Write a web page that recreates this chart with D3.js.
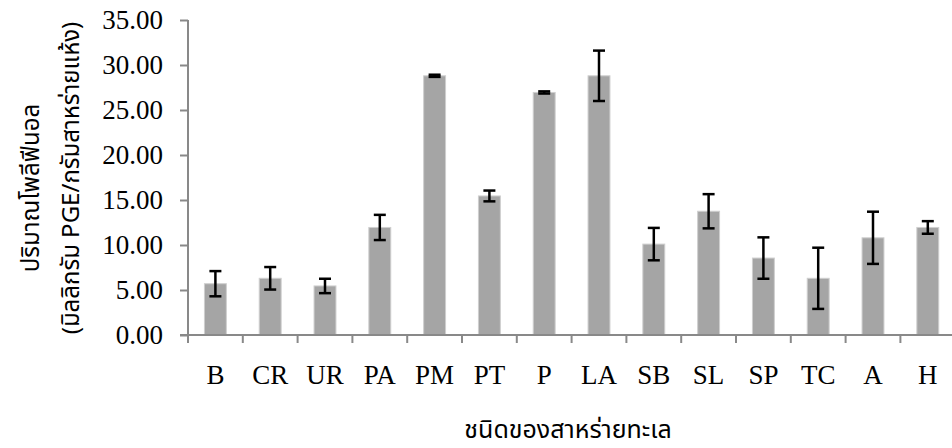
<!DOCTYPE html>
<html>
<head>
<meta charset="utf-8">
<script src="https://cdn.jsdelivr.net/npm/d3@7"></script>
<style>
  body { margin: 0; background: #fff; }
  svg { display: block; }
</style>
</head>
<body>
<script>
var width = 952,
    height = 448;

// seaweed types and polyphenol content (mg PGE / g dry weight)
var categories = ["B", "CR", "UR", "PA", "PM", "PT", "P", "LA", "SB", "SL", "SP", "TC", "A", "H"];
var values = [5.7, 6.3, 5.45, 11.95, 28.8, 15.45, 26.95, 28.8, 10.1, 13.75, 8.55, 6.3, 10.8, 11.95];
var errors = [1.4, 1.25, 0.8, 1.4, 0.12, 0.6, 0.12, 2.8, 1.8, 1.9, 2.3, 3.4, 2.9, 0.7];
var yTicks = [0, 5, 10, 15, 20, 25, 30, 35];

var svg = d3.select("body").append("svg")
    .attr("width", width)
    .attr("height", height);

var plotLeft = 188, plotTop = 20, plotBottom = 335;
var step = 54.8;

var x = d3.scaleBand()
    .domain(categories)
    .range([plotLeft, plotLeft + step * categories.length])
    .paddingInner(0.6)
    .paddingOuter(0.3);

var y = d3.scaleLinear()
    .domain([0, 35])
    .range([plotBottom, plotTop]);

var axisColor = "#898989";
var serif = "'Liberation Serif', 'Times New Roman', serif";

// bars
svg.append("g")
    .selectAll("rect")
    .data(categories)
    .enter()
    .append("rect")
    .attr("x", function (d) { return x(d); })
    .attr("y", function (d, i) { return y(values[i]); })
    .attr("width", x.bandwidth())
    .attr("height", function (d, i) { return y(0) - y(values[i]); })
    .style("fill", "#a5a5a5")
    .style("stroke", "#cfcfcf")
    .style("stroke-width", 1);

// error bars
var eb = svg.append("g")
    .selectAll("g")
    .data(categories)
    .enter()
    .append("g")
    .attr("transform", function (d) { return "translate(" + (x(d) + x.bandwidth() / 2) + ",0)"; })
    .style("stroke", "#000")
    .style("stroke-width", 2.5);

eb.append("line")
    .attr("y1", function (d, i) { return y(values[i] + errors[i]); })
    .attr("y2", function (d, i) { return y(values[i] - errors[i]); });
eb.append("line")
    .attr("x1", -6).attr("x2", 6)
    .attr("y1", function (d, i) { return y(values[i] + errors[i]); })
    .attr("y2", function (d, i) { return y(values[i] + errors[i]); });
eb.append("line")
    .attr("x1", -6).attr("x2", 6)
    .attr("y1", function (d, i) { return y(values[i] - errors[i]); })
    .attr("y2", function (d, i) { return y(values[i] - errors[i]); });

// y axis
var yAxis = svg.append("g")
    .attr("transform", "translate(" + plotLeft + ",0)")
    .call(d3.axisLeft(y).tickValues(yTicks).tickFormat(d3.format(".2f")).tickSize(8).tickPadding(17));
yAxis.select(".domain").attr("d", "M0," + plotTop + "V" + plotBottom);
yAxis.selectAll("line, path").style("stroke", axisColor).style("stroke-width", 2);
yAxis.selectAll("text")
    .style("font-family", serif)
    .style("font-size", "27px")
    .style("fill", "#000");

// x axis
var xAxis = svg.append("g")
    .attr("transform", "translate(0," + plotBottom + ")")
    .call(d3.axisBottom(x).tickSize(0));
xAxis.select(".domain").attr("d", "M180,0H" + width)
    .style("stroke", axisColor).style("stroke-width", 2);
xAxis.selectAll("text")
    .attr("y", 49).attr("dy", 0)
    .style("font-family", serif)
    .style("font-size", "27px")
    .style("fill", "#000");

// boundary ticks between categories
svg.append("g")
    .selectAll("line")
    .data(d3.range(categories.length + 1))
    .enter()
    .append("line")
    .attr("x1", function (i) { return plotLeft + i * x.step(); })
    .attr("x2", function (i) { return plotLeft + i * x.step(); })
    .attr("y1", plotBottom)
    .attr("y2", plotBottom + 8)
    .style("stroke", axisColor)
    .style("stroke-width", 2);

// axis titles
var thaiFont = "Tahoma, 'Noto Sans Thai', 'Noto Sans', 'DejaVu Sans', sans-serif";

svg.append("text")
    .attr("x", 568)
    .attr("y", 438)
    .attr("text-anchor", "middle")
    .style("font-family", thaiFont)
    .style("font-size", "25px")
    .text("ชนิดของสาหร่ายทะเล");

svg.append("text")
    .attr("transform", "translate(39,188) rotate(-90)")
    .attr("text-anchor", "middle")
    .style("font-family", thaiFont)
    .style("font-size", "24px")
    .text("ปริมาณโพลีฟีนอล");

svg.append("text")
    .attr("transform", "translate(79,178) rotate(-90)")
    .attr("text-anchor", "middle")
    .style("font-family", thaiFont)
    .style("font-size", "24px")
    .text("(มิลลิกรัม PGE/กรัมสาหร่ายแห้ง)");
</script>
</body>
</html>
